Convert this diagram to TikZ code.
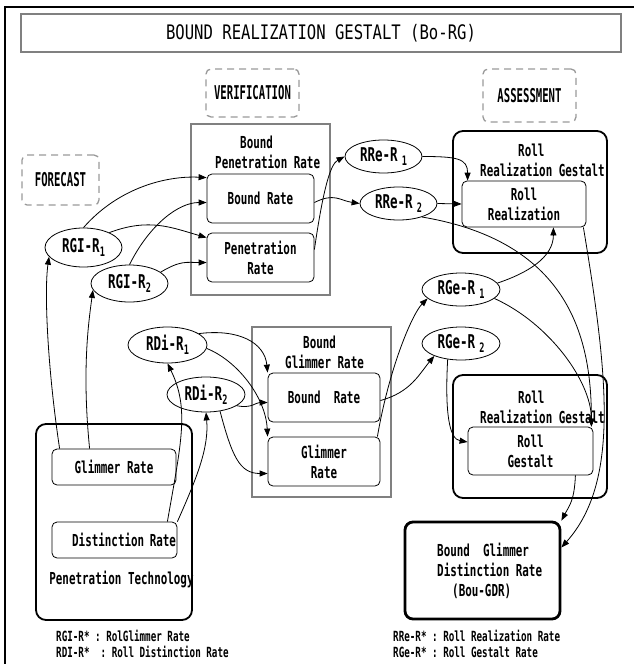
\documentclass[tikz,border=0pt]{standalone}
\usepackage{fontspec}
\usetikzlibrary{arrows.meta,calc,shapes.geometric}
\newfontfamily\TitleFont{DejaVu Sans Mono}[FakeStretch=0.78]
\newfontfamily\TagFont{DejaVu Sans Mono Bold}[FakeStretch=0.56]
\newfontfamily\LabFont{DejaVu Sans Mono Bold}[FakeStretch=0.66]
\definecolor{BoxClr}{rgb}{0.5,0.5,0.5}
\definecolor{TagClr}{rgb}{0.6,0.6,0.6}
\newcommand\RateSub[1]{\raisebox{-4pt}{\fontsize{13}{13}\selectfont#1}}

\begin{document}
\begin{tikzpicture}[x=1pt,y=-1pt,
  lab/.style={font=\LabFont\fontsize{16.5}{20}\selectfont,align=center,inner sep=0pt},
  tagbox/.style={draw=TagClr,dashed,dash pattern=on 7pt off 5pt,line width=1.3pt,rounded corners=5pt,
    inner sep=0pt,font=\TagFont\fontsize{19}{20}\selectfont},
  grpbox/.style={draw=BoxClr,line width=1.2pt,inner sep=0pt},
  inbox/.style={lab,draw,rounded corners=5pt,line width=0.8pt},
  rollbox/.style={draw,rounded corners=10pt,line width=1.8pt,inner sep=0pt},
  rate/.style={draw,ellipse,line width=0.8pt,inner sep=0pt,font=\LabFont\fontsize{19}{20}\selectfont},
  link/.style={line width=0.8pt,-{Triangle[length=8pt,width=6pt]}},
  lgd/.style={anchor=west,inner sep=0pt,font=\LabFont\fontsize{14}{14}\selectfont}]
\useasboundingbox (0,0) rectangle (633,664);

% frame and title
\draw[line width=1.5pt] (5,7) rectangle (645,680);
\draw[line width=2.5pt] (5,7) -- (645,7);
\node[draw=BoxClr,line width=1.2pt,minimum width=600pt,minimum height=38pt,
  font=\TitleFont\fontsize{20}{20}\selectfont] (title) at (321,33) {BOUND REALIZATION GESTALT (Bo-RG)};

% stage tags
\node[tagbox,minimum width=77pt,minimum height=50pt] (forecast) at (60.5,180) {FORECAST};
\node[tagbox,minimum width=93pt,minimum height=48pt] (verif) at (252.5,93) {VERIFICATION};
\node[tagbox,minimum width=93pt,minimum height=53pt] (assess) at (529.5,95.5) {ASSESSMENT};

% group boxes
\node[grpbox,minimum width=139pt,minimum height=171pt] (bpr) at (260.5,209.5) {};
\node[lab,align=left,anchor=west] (bpr-hd) at (215,152) {\hspace*{25pt}Bound\\Penetration Rate};
\node[inbox,minimum width=107pt,minimum height=49pt] (bpr-br) at (260.5,198.5) {Bound Rate};
\node[inbox,minimum width=107pt,minimum height=49pt] (bpr-pr) at (260.5,257.5) {Penetration\\Rate};

\node[grpbox,minimum width=139pt,minimum height=170pt] (bgr) at (321.5,412) {};
\node[lab,align=left,anchor=west] (bgr-hd) at (285,352) {\hspace*{18pt}Bound\\Glimmer Rate};
\node[inbox,minimum width=112pt,minimum height=49pt] (bgr-br) at (324,397.5) {Bound\ \ Rate};
\node[inbox,minimum width=112pt,minimum height=49pt] (bgr-gr) at (324,461.5) {Glimmer\\Rate};

\node[rollbox,minimum width=154pt,minimum height=122pt] (rrg1) at (530,192) {};
\node[lab,align=left,anchor=west] (rrg1-hd) at (480,160) {\hspace*{38pt}Roll\\Realization Gestalt};
\node[inbox,minimum width=124pt,minimum height=46pt] (rr) at (524,204) {Roll\\Realization};

\node[rollbox,minimum width=154pt,minimum height=123pt] (rrg2) at (530,436.5) {};
\node[lab,align=left,anchor=west] (rrg2-hd) at (480,407) {\hspace*{38pt}Roll\\Realization Gestalt};
\node[inbox,minimum width=125pt,minimum height=48pt] (rg) at (530.5,451) {Roll\\Gestalt};

\node[rollbox,minimum width=156pt,minimum height=196pt] (pt) at (114,522) {};
\node[inbox,minimum width=124pt,minimum height=36pt] (pt-gr) at (114,467) {Glimmer Rate};
\node[inbox,minimum width=125pt,minimum height=36pt,text width=123pt,align=right] (pt-dr) at (114.5,540) {Distinction Rate};
\node[lab] (pt-lbl) at (121.5,579) {Penetration Technology};

\node[draw,rounded corners=8pt,line width=2.8pt,minimum width=155pt,minimum height=97pt] (bgdr) at (482.5,570.5) {};
\node[lab,align=left,anchor=west] (bgdr-txt) at (437,571) {Bound\ \ Glimmer\\Distinction Rate\\\hspace*{15pt}(Bou-GDR)};

% rates
\node[rate,minimum width=77pt,minimum height=39pt] (rgi1) at (83.5,247.5) {RGI-R\RateSub{1}};
\node[rate,minimum width=77pt,minimum height=37pt] (rgi2) at (129.5,283.5) {RGI-R\RateSub{2}};
\node[rate,minimum width=77pt,minimum height=33pt] (rre1) at (383.5,156.5) {RRe-R\hspace{4pt}\RateSub{1}};
\node[rate,minimum width=77pt,minimum height=33pt] (rre2) at (398.5,203.5) {RRe-R\hspace{4pt}\RateSub{2}};
\node[rate,minimum width=78pt,minimum height=33pt] (rge1) at (461,289.5) {RGe-R\hspace{4pt}\RateSub{1}};
\node[rate,minimum width=78pt,minimum height=33pt] (rge2) at (461,343.5) {RGe-R\hspace{4pt}\RateSub{2}};
\node[rate,minimum width=79pt,minimum height=36pt] (rdi1) at (167.5,345) {RDi-R\RateSub{1}};
\node[rate,minimum width=78pt,minimum height=35pt] (rdi2) at (206,394.5) {RDi-R\RateSub{2}};

% links
\draw[link] (rgi1.north) .. controls +(35,-40) and +(-40,-2) .. ($(bpr-br.north west)+(0,4)$);
\draw[link] (rgi1.30) .. controls +(40,-15) and +(-35,-10) .. ($(bpr-pr.north west)+(0,5)$);
\draw[link] (rgi2.north) .. controls +(20,-40) and +(-28,0) .. ($(bpr-br.west)+(0,4)$);
\draw[link] (rgi2.20) .. controls +(20,-12) and +(-20,0) .. ($(bpr-pr.west)+(0,5)$);
\draw[link] ($(pt-gr.north west)+(8,0)$) .. controls +(-12,-80) and +(-5,35) .. (rgi1.195);
\draw[link] ($(pt-gr.north west)+(38,0)$) .. controls +(-8,-80) and +(-4,30) .. (rgi2.190);
\draw[link] ($(pt-dr.north east)+(-10,0)$) .. controls +(14,-80) and +(22,45) .. (rdi1.south);
\draw[link] (pt-dr.north east) .. controls +(20,-45) and +(3,35) .. (rdi2.south);
\draw[link] (rdi1.20) .. controls +(40,-5) and +(-3,-30) .. (bgr-br.north west);
\draw[link] (rdi1.-5) .. controls +(30,12) and +(-2,-40) .. (bgr-gr.north west);
\draw[link] (rdi2.-20) .. controls +(15,3) and +(-12,0) .. ($(bgr-br.west)+(0,5)$);
\draw[link] (rdi2.-50) .. controls +(12,45) and +(-28,0) .. ($(bgr-gr.west)+(0,12)$);
\draw[link] ($(bpr-br.east)+(0,4)$) .. controls +(20,-10) and +(-20,-3) .. (rre2.west);
\draw[link] ($(bpr-pr.east)+(0,-8)$) .. controls +(8,-55) and +(-15,8) .. (rre1.west);
\draw[link] (rre1.east) .. controls +(35,0) and +(0,-22) .. ($(rr.north west)+(6,0)$);
\draw[link] (rre2.east) -- (rr.west);
\draw[link] (rre2.-30) .. controls +(150,25) and +(0,-85) .. ($(rg.north east)+(-2,0)$);
\draw[link] ($(rr.south east)+(-3,0)$) .. controls +(25,150) and +(58,-65) .. ($(bgdr.east)+(0,-23)$);
\draw[link] (rge1.10) .. controls +(30,-10) and +(0,30) .. ($(rr.south east)+(-33,0)$);
\draw[link] (rge1.-15) .. controls +(55,25) and +(0,-45) .. ($(rg.north east)+(-2,0)$);
\draw[link] (rge2.230) .. controls +(-3,55) and +(-18,-3) .. ($(rg.west)+(0,-9)$);
\draw[link] ($(bgr-br.east)+(0,3)$) .. controls +(30,-8) and +(-15,18) .. (rge2.205);
\draw[link] ($(bgr-gr.north east)+(-3,0)$) .. controls +(12,-70) and +(-15,15) .. (rge1.195);
\draw[link] ($(rg.south east)+(-18,0)$) .. controls +(-1,25) and +(8,-15) .. (bgdr.north east);

% legend
\node[lgd] (lgd-rgi) at (56,636) {RGI-R*\ :\ RolGlimmer Rate};
\node[lgd] (lgd-rdi) at (56,652) {RDI-R*\ \ :\ Roll Distinction Rate};
\node[lgd] (lgd-rre) at (393,636) {RRe-R*\ :\ Roll Realization Rate};
\node[lgd] (lgd-rge) at (393,652) {RGe-R*\ :\ Roll Gestalt Rate};
\end{tikzpicture}
\end{document}
